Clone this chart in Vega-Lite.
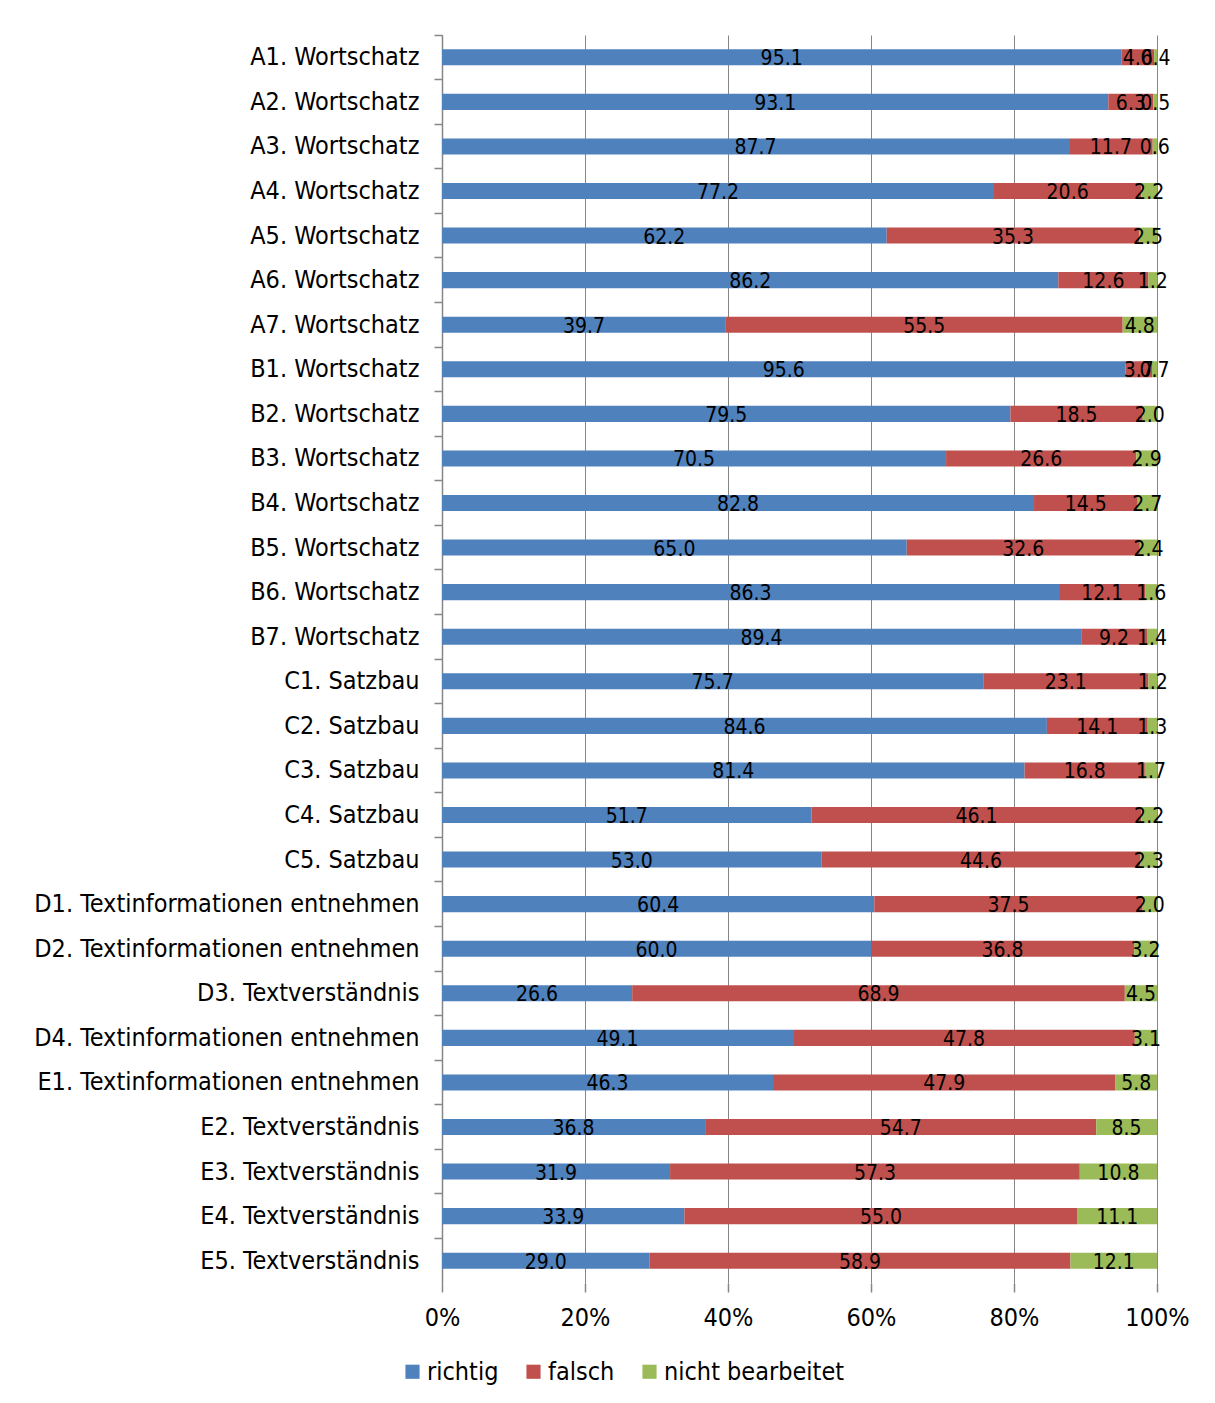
{
  "$schema": "https://vega.github.io/schema/vega-lite/v6.json",
  "width": 715,
  "height": 1248,
  "autosize": {"type": "none"},
  "padding": {"left": 442, "top": 35, "right": 58, "bottom": 120},
  "background": "white",
  "config": {"view": {"stroke": null}, "font": "DejaVu Sans Condensed"},
  "data": {"values": [
    {"aufgabe": "A1. Wortschatz", "kategorie": "richtig", "wert": 95.1},
    {"aufgabe": "A1. Wortschatz", "kategorie": "falsch", "wert": 4.6},
    {"aufgabe": "A1. Wortschatz", "kategorie": "nicht bearbeitet", "wert": 0.4},
    {"aufgabe": "A2. Wortschatz", "kategorie": "richtig", "wert": 93.1},
    {"aufgabe": "A2. Wortschatz", "kategorie": "falsch", "wert": 6.3},
    {"aufgabe": "A2. Wortschatz", "kategorie": "nicht bearbeitet", "wert": 0.5},
    {"aufgabe": "A3. Wortschatz", "kategorie": "richtig", "wert": 87.7},
    {"aufgabe": "A3. Wortschatz", "kategorie": "falsch", "wert": 11.7},
    {"aufgabe": "A3. Wortschatz", "kategorie": "nicht bearbeitet", "wert": 0.6},
    {"aufgabe": "A4. Wortschatz", "kategorie": "richtig", "wert": 77.2},
    {"aufgabe": "A4. Wortschatz", "kategorie": "falsch", "wert": 20.6},
    {"aufgabe": "A4. Wortschatz", "kategorie": "nicht bearbeitet", "wert": 2.2},
    {"aufgabe": "A5. Wortschatz", "kategorie": "richtig", "wert": 62.2},
    {"aufgabe": "A5. Wortschatz", "kategorie": "falsch", "wert": 35.3},
    {"aufgabe": "A5. Wortschatz", "kategorie": "nicht bearbeitet", "wert": 2.5},
    {"aufgabe": "A6. Wortschatz", "kategorie": "richtig", "wert": 86.2},
    {"aufgabe": "A6. Wortschatz", "kategorie": "falsch", "wert": 12.6},
    {"aufgabe": "A6. Wortschatz", "kategorie": "nicht bearbeitet", "wert": 1.2},
    {"aufgabe": "A7. Wortschatz", "kategorie": "richtig", "wert": 39.7},
    {"aufgabe": "A7. Wortschatz", "kategorie": "falsch", "wert": 55.5},
    {"aufgabe": "A7. Wortschatz", "kategorie": "nicht bearbeitet", "wert": 4.8},
    {"aufgabe": "B1. Wortschatz", "kategorie": "richtig", "wert": 95.6},
    {"aufgabe": "B1. Wortschatz", "kategorie": "falsch", "wert": 3.7},
    {"aufgabe": "B1. Wortschatz", "kategorie": "nicht bearbeitet", "wert": 0.7},
    {"aufgabe": "B2. Wortschatz", "kategorie": "richtig", "wert": 79.5},
    {"aufgabe": "B2. Wortschatz", "kategorie": "falsch", "wert": 18.5},
    {"aufgabe": "B2. Wortschatz", "kategorie": "nicht bearbeitet", "wert": 2.0},
    {"aufgabe": "B3. Wortschatz", "kategorie": "richtig", "wert": 70.5},
    {"aufgabe": "B3. Wortschatz", "kategorie": "falsch", "wert": 26.6},
    {"aufgabe": "B3. Wortschatz", "kategorie": "nicht bearbeitet", "wert": 2.9},
    {"aufgabe": "B4. Wortschatz", "kategorie": "richtig", "wert": 82.8},
    {"aufgabe": "B4. Wortschatz", "kategorie": "falsch", "wert": 14.5},
    {"aufgabe": "B4. Wortschatz", "kategorie": "nicht bearbeitet", "wert": 2.7},
    {"aufgabe": "B5. Wortschatz", "kategorie": "richtig", "wert": 65.0},
    {"aufgabe": "B5. Wortschatz", "kategorie": "falsch", "wert": 32.6},
    {"aufgabe": "B5. Wortschatz", "kategorie": "nicht bearbeitet", "wert": 2.4},
    {"aufgabe": "B6. Wortschatz", "kategorie": "richtig", "wert": 86.3},
    {"aufgabe": "B6. Wortschatz", "kategorie": "falsch", "wert": 12.1},
    {"aufgabe": "B6. Wortschatz", "kategorie": "nicht bearbeitet", "wert": 1.6},
    {"aufgabe": "B7. Wortschatz", "kategorie": "richtig", "wert": 89.4},
    {"aufgabe": "B7. Wortschatz", "kategorie": "falsch", "wert": 9.2},
    {"aufgabe": "B7. Wortschatz", "kategorie": "nicht bearbeitet", "wert": 1.4},
    {"aufgabe": "C1. Satzbau", "kategorie": "richtig", "wert": 75.7},
    {"aufgabe": "C1. Satzbau", "kategorie": "falsch", "wert": 23.1},
    {"aufgabe": "C1. Satzbau", "kategorie": "nicht bearbeitet", "wert": 1.2},
    {"aufgabe": "C2. Satzbau", "kategorie": "richtig", "wert": 84.6},
    {"aufgabe": "C2. Satzbau", "kategorie": "falsch", "wert": 14.1},
    {"aufgabe": "C2. Satzbau", "kategorie": "nicht bearbeitet", "wert": 1.3},
    {"aufgabe": "C3. Satzbau", "kategorie": "richtig", "wert": 81.4},
    {"aufgabe": "C3. Satzbau", "kategorie": "falsch", "wert": 16.8},
    {"aufgabe": "C3. Satzbau", "kategorie": "nicht bearbeitet", "wert": 1.7},
    {"aufgabe": "C4. Satzbau", "kategorie": "richtig", "wert": 51.7},
    {"aufgabe": "C4. Satzbau", "kategorie": "falsch", "wert": 46.1},
    {"aufgabe": "C4. Satzbau", "kategorie": "nicht bearbeitet", "wert": 2.2},
    {"aufgabe": "C5. Satzbau", "kategorie": "richtig", "wert": 53.0},
    {"aufgabe": "C5. Satzbau", "kategorie": "falsch", "wert": 44.6},
    {"aufgabe": "C5. Satzbau", "kategorie": "nicht bearbeitet", "wert": 2.3},
    {"aufgabe": "D1. Textinformationen entnehmen", "kategorie": "richtig", "wert": 60.4},
    {"aufgabe": "D1. Textinformationen entnehmen", "kategorie": "falsch", "wert": 37.5},
    {"aufgabe": "D1. Textinformationen entnehmen", "kategorie": "nicht bearbeitet", "wert": 2.0},
    {"aufgabe": "D2. Textinformationen entnehmen", "kategorie": "richtig", "wert": 60.0},
    {"aufgabe": "D2. Textinformationen entnehmen", "kategorie": "falsch", "wert": 36.8},
    {"aufgabe": "D2. Textinformationen entnehmen", "kategorie": "nicht bearbeitet", "wert": 3.2},
    {"aufgabe": "D3. Textverständnis", "kategorie": "richtig", "wert": 26.6},
    {"aufgabe": "D3. Textverständnis", "kategorie": "falsch", "wert": 68.9},
    {"aufgabe": "D3. Textverständnis", "kategorie": "nicht bearbeitet", "wert": 4.5},
    {"aufgabe": "D4. Textinformationen entnehmen", "kategorie": "richtig", "wert": 49.1},
    {"aufgabe": "D4. Textinformationen entnehmen", "kategorie": "falsch", "wert": 47.8},
    {"aufgabe": "D4. Textinformationen entnehmen", "kategorie": "nicht bearbeitet", "wert": 3.1},
    {"aufgabe": "E1. Textinformationen entnehmen", "kategorie": "richtig", "wert": 46.3},
    {"aufgabe": "E1. Textinformationen entnehmen", "kategorie": "falsch", "wert": 47.9},
    {"aufgabe": "E1. Textinformationen entnehmen", "kategorie": "nicht bearbeitet", "wert": 5.8},
    {"aufgabe": "E2. Textverständnis", "kategorie": "richtig", "wert": 36.8},
    {"aufgabe": "E2. Textverständnis", "kategorie": "falsch", "wert": 54.7},
    {"aufgabe": "E2. Textverständnis", "kategorie": "nicht bearbeitet", "wert": 8.5},
    {"aufgabe": "E3. Textverständnis", "kategorie": "richtig", "wert": 31.9},
    {"aufgabe": "E3. Textverständnis", "kategorie": "falsch", "wert": 57.3},
    {"aufgabe": "E3. Textverständnis", "kategorie": "nicht bearbeitet", "wert": 10.8},
    {"aufgabe": "E4. Textverständnis", "kategorie": "richtig", "wert": 33.9},
    {"aufgabe": "E4. Textverständnis", "kategorie": "falsch", "wert": 55.0},
    {"aufgabe": "E4. Textverständnis", "kategorie": "nicht bearbeitet", "wert": 11.1},
    {"aufgabe": "E5. Textverständnis", "kategorie": "richtig", "wert": 29.0},
    {"aufgabe": "E5. Textverständnis", "kategorie": "falsch", "wert": 58.9},
    {"aufgabe": "E5. Textverständnis", "kategorie": "nicht bearbeitet", "wert": 12.1}
  ]},
  "transform": [
    {"calculate": "indexof(['richtig','falsch','nicht bearbeitet'], datum.kategorie)", "as": "ord"},
    {"stack": "wert", "groupby": ["aufgabe"], "sort": [{"field": "ord", "order": "ascending"}], "offset": "normalize", "as": ["x0", "x1"]},
    {"calculate": "(datum.x0 + datum.x1) / 2", "as": "xm"}
  ],
  "layer": [
    {
      "mark": {"type": "bar", "height": {"band": 0.36}},
      "encoding": {
        "y": {
          "field": "aufgabe", "type": "nominal", "sort": null, "title": null,
          "scale": {"paddingInner": 0, "paddingOuter": 0},
          "axis": {
            "bandPosition": 0, "domainColor": "#868686", "domainWidth": 1.5,
            "tickColor": "#868686", "tickSize": 8, "tickWidth": 1.5,
            "labelFontSize": 25, "labelColor": "#000000", "labelPadding": 15,
            "labelFont": "DejaVu Sans Condensed", "labelLimit": 500
          }
        },
        "x": {
          "field": "x0", "type": "quantitative", "title": null,
          "scale": {"domain": [0, 1], "nice": false},
          "axis": {
            "values": [0, 0.2, 0.4, 0.6, 0.8, 1], "format": ".0%",
            "domain": false, "tickColor": "#868686", "tickSize": 9, "tickWidth": 1.5,
            "gridColor": "#868686", "gridWidth": 1, "labelFlush": false,
            "labelFontSize": 25, "labelColor": "#000000", "labelPadding": 13,
            "labelFont": "DejaVu Sans Condensed"
          }
        },
        "x2": {"field": "x1"},
        "color": {
          "field": "kategorie", "type": "nominal",
          "scale": {"domain": ["richtig", "falsch", "nicht bearbeitet"], "range": ["#4F81BD", "#C0504D", "#9BBB59"]},
          "legend": {
            "title": null, "orient": "none", "direction": "horizontal",
            "legendX": -42, "legendY": 1324,
            "symbolType": "square", "symbolSize": 200, "symbolStrokeWidth": 0,
            "labelFontSize": 25, "labelColor": "#000000", "labelFont": "DejaVu Sans Condensed",
            "labelLimit": 400, "labelOffset": 2, "columnPadding": 22
          }
        }
      }
    },
    {
      "mark": {"type": "text", "fontSize": 21, "color": "#000000", "baseline": "middle", "dy": 2, "font": "DejaVu Sans Condensed"},
      "encoding": {
        "y": {"field": "aufgabe", "type": "nominal", "sort": null},
        "x": {"field": "xm", "type": "quantitative"},
        "text": {"field": "wert", "type": "quantitative", "format": ".1f"}
      }
    }
  ]
}
